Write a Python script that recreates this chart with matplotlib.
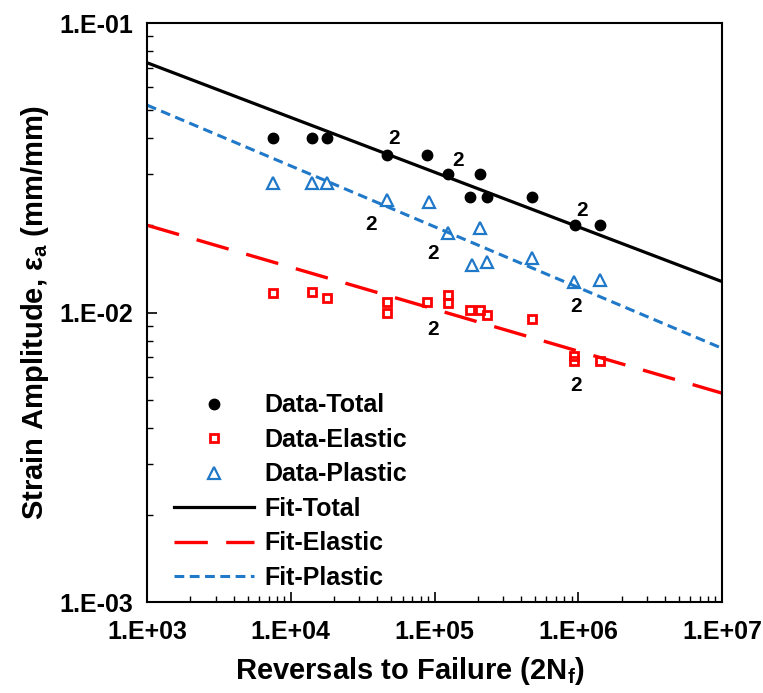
import numpy as np
import matplotlib
matplotlib.use("Agg")
import matplotlib.pyplot as plt
from matplotlib.ticker import LogLocator, FuncFormatter, NullFormatter

plt.rcParams['font.family'] = ['Liberation Sans', 'DejaVu Sans']
plt.rcParams['font.weight'] = 'bold'

# measured data (reversals, strain amplitude)
total_x = [7.5e3, 1.4e4, 1.8e4, 4.7e4, 8.9e4, 1.24e5, 2.07e5, 1.77e5, 2.3e5, 4.8e5, 9.5e5, 1.42e6]
total_y = [0.040, 0.040, 0.040, 0.035, 0.035, 0.030, 0.030, 0.025, 0.025, 0.025, 0.020, 0.020]

elastic_x = [7.5e3, 1.4e4, 1.8e4, 4.7e4, 4.7e4, 8.9e4, 1.24e5, 1.24e5, 1.77e5, 2.07e5, 2.3e5,
             4.8e5, 9.4e5, 9.4e5, 1.42e6]
elastic_y = [0.0117, 0.0118, 0.0112, 0.0109, 0.0100, 0.0109, 0.0115, 0.0108, 0.0102, 0.0102,
             0.0098, 0.0095, 0.0071, 0.0068, 0.0068]

plastic_x = [7.5e3, 1.4e4, 1.8e4, 4.7e4, 9.1e4, 1.24e5, 2.07e5, 1.82e5, 2.3e5, 4.8e5, 9.4e5, 1.42e6]
plastic_y = [0.028, 0.028, 0.028, 0.0245, 0.024, 0.0188, 0.0196, 0.0146, 0.0149, 0.0154,
             0.0127, 0.0129]

# power-law fits: eps = coef * (2Nf)^expo
fit_total = (0.269, -0.189)
fit_elastic = (0.0545, -0.145)
fit_plastic = (0.222, -0.210)

# "2" = two tests at the same point: (x, y, dx, dy in points)
dup_labels = [
    (4.7e4, 0.035, 5, 12), (1.24e5, 0.030, 7, 10), (9.5e5, 0.020, 5, 11),
    (4.7e4, 0.0245, -12, -18), (1.24e5, 0.0188, -11, -15), (9.4e5, 0.0127, 1, -17),
    (8.9e4, 0.0109, 4, -20), (9.4e5, 0.0068, 1, -18),
]

fig = plt.figure(figsize=(7.63, 6.93), dpi=100)
ax = fig.add_axes([0.1927, 0.1313, 0.7536, 0.8355])

ax.plot(total_x, total_y, 'o', color='black', ms=7.5, label='Data-Total', zorder=4)
ax.plot(elastic_x, elastic_y, 's', color='red', mfc='none', ms=6, mew=2,
        label='Data-Elastic', zorder=4)
ax.plot(plastic_x, plastic_y, '^', color='#1f78c8', mfc='none', ms=8, mew=1.6,
        label='Data-Plastic', zorder=4)

xf = np.logspace(3, 7, 50)
ax.plot(xf, fit_total[0] * xf ** fit_total[1], '-', color='black', lw=2.3, label='Fit-Total')
ax.plot(xf, fit_elastic[0] * xf ** fit_elastic[1], color='red', lw=2.4,
        dashes=(10, 5.5), label='Fit-Elastic')
ax.plot(xf, fit_plastic[0] * xf ** fit_plastic[1], color='#1f78c8', lw=2.2,
        dashes=(3.2, 1.8), label='Fit-Plastic')

for x, y, dx, dy in dup_labels:
    ax.annotate('2', (x, y), xytext=(dx, dy), textcoords='offset points',
                ha='center', va='center', fontsize=15, fontweight='bold')

ax.set_xscale('log')
ax.set_yscale('log')
ax.set_xlim(1e3, 1e7)
ax.set_ylim(1e-3, 1e-1)

fmt = FuncFormatter(lambda v, p: '1.E%+03d' % int(round(np.log10(v))))
ax.xaxis.set_major_formatter(fmt)
ax.yaxis.set_major_formatter(fmt)
ax.xaxis.set_major_locator(LogLocator(base=10, numticks=10))
ax.yaxis.set_major_locator(LogLocator(base=10, numticks=10))
ax.xaxis.set_minor_locator(LogLocator(base=10, subs=np.arange(2, 10), numticks=20))
ax.yaxis.set_minor_locator(LogLocator(base=10, subs=np.arange(2, 10), numticks=20))
ax.xaxis.set_minor_formatter(NullFormatter())
ax.yaxis.set_minor_formatter(NullFormatter())

ax.tick_params(which='major', direction='in', length=7, width=1.2, labelsize=18)
ax.tick_params(which='minor', direction='in', length=4, width=1.0)
ax.tick_params(axis='x', which='major', pad=13)
ax.tick_params(axis='y', which='major', pad=10)
for s in ax.spines.values():
    s.set_linewidth(1.5)

ax.set_xlabel('Reversals to Failure (2N$_\\mathregular{f}$)', fontsize=21, fontweight='bold',
              labelpad=8)
ax.xaxis.label.set_x(0.457)
ax.set_ylabel('Strain Amplitude, ε$_\\mathregular{a}$ (mm/mm)', fontsize=21, fontweight='bold',
              labelpad=6)

leg = ax.legend(loc='upper left', bbox_to_anchor=(0.008, 0.399), frameon=False, fontsize=18,
                handlelength=3.2, handletextpad=0.4, labelspacing=0.42, numpoints=1,
                borderpad=0.4)

fig.savefig('out.png', dpi=100)
